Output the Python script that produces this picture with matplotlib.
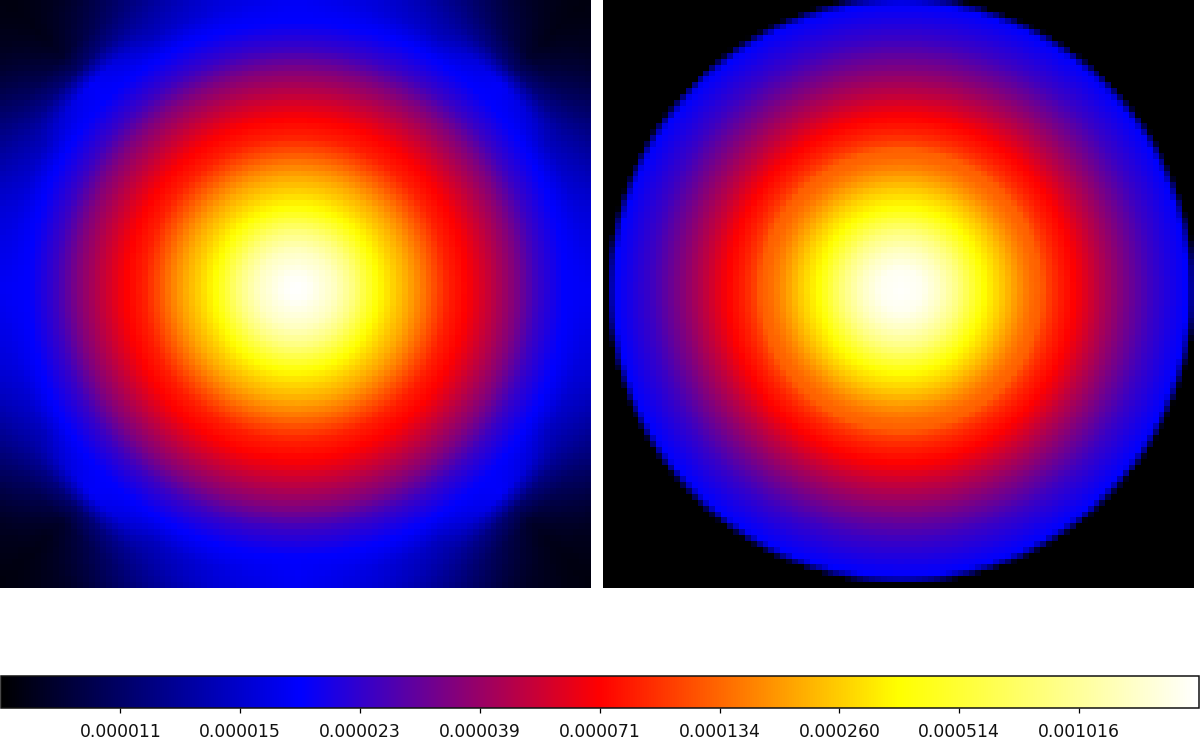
import numpy as np
import matplotlib
matplotlib.use("Agg")
import matplotlib.pyplot as plt
from matplotlib.colors import LinearSegmentedColormap, FuncNorm
from matplotlib.cm import ScalarMappable

# Colour scale: values (in 1e-6) at each tenth of the bar
SCALE_VALUES = [9, 11, 15, 23, 39, 71, 134, 260, 514, 1016, 2000]
SCALE_POS = [0.0, 0.1, 0.2, 0.3, 0.4, 0.5, 0.6, 0.7, 0.8, 0.9, 1.0]
TICK_VALUES = [11, 15, 23, 39, 71, 134, 260, 514, 1016]
TICK_LABELS = ["0.000011", "0.000015", "0.000023", "0.000039", "0.000071",
               "0.000134", "0.000260", "0.000514", "0.001016"]
CMAP_COLORS = ["#000000", "#0000ff", "#ff0000", "#ffff00", "#ffffff"]

# Left map: radial profile (image px, value in 1e-6)
LEFT_R = [0, 13, 38, 56, 82, 99, 111, 124, 136, 152, 170, 194, 219, 240, 268]
LEFT_V = [2000, 1866, 1331, 860, 365, 260, 209, 158, 120, 86, 71, 49, 34, 24, 18.3]
# Left map: outskirts, by radius and by angle away from the axes
OUTER_R = [268, 290, 310, 330, 350, 375, 420]
OUTER_ANGLE = [0, 15, 30, 45]
OUTER_V = [[18.3, 17.8, 17.5, 17.5, 17.5, 17.5, 17.5],
           [18.3, 16.2, 15.5, 14.5, 13.7, 12.8, 11.8],
           [18.3, 14.2, 12.9, 11.8, 11.0, 10.0, 9.4],
           [18.3, 18.0, 11.0, 9.7, 9.4, 9.3, 9.2]]

# Right map: radial profile (image px, value in 1e-6)
RIGHT_R = [0, 21, 39, 57, 83, 100, 110, 123, 133, 140, 147, 158, 173, 195, 221, 250, 286, 291, 295]
RIGHT_V = [1950, 1800, 1331, 860, 365, 260, 209, 158, 134, 130, 105, 86, 71, 49, 34, 24, 18.3, 12, 9]

N_CELLS = 100
W, H = 1200, 742
LEFT_BOX = (0, 590.5, 0, 588)
RIGHT_BOX = (603, 1194, 0, 588)
LEFT_CENTRE = (296, 289)
RIGHT_CENTRE = (901, 290)

OFFSET = 7.0
_logs = np.log2(np.array(SCALE_VALUES, float) - OFFSET)
_pos = np.array(SCALE_POS)


def forward(v):
    return np.interp(np.log2(np.maximum(np.asarray(v, float) - OFFSET, 1e-3)), _logs, _pos)


def inverse(t):
    return 2.0 ** np.interp(np.asarray(t, float), _pos, _logs) + OFFSET


norm = FuncNorm((forward, inverse), vmin=SCALE_VALUES[0], vmax=SCALE_VALUES[-1])
cmap = LinearSegmentedColormap.from_list("bbyw", CMAP_COLORS, N=512)


def radii(box, centre):
    xs = box[0] + (np.arange(N_CELLS) + 0.5) * (box[1] - box[0]) / N_CELLS
    ys = box[2] + (np.arange(N_CELLS) + 0.5) * (box[3] - box[2]) / N_CELLS
    dx, dy = np.meshgrid(xs - centre[0], ys - centre[1])
    return dx, dy, np.hypot(dx, dy)


def along(r, knots, values):
    # read between profile knots along the colour scale, not in raw value
    return inverse(np.interp(r, knots, forward(values)))


def left_map():
    dx, dy, r = radii(LEFT_BOX, LEFT_CENTRE)
    z = along(r, LEFT_R, LEFT_V)
    a = np.degrees(np.arctan2(np.minimum(abs(dx), abs(dy)), np.maximum(abs(dx), abs(dy))))
    rows = np.array([np.interp(r, OUTER_R, forward(row)) for row in OUTER_V])
    k = np.clip(np.searchsorted(OUTER_ANGLE, a, side="right") - 1, 0, len(OUTER_ANGLE) - 2)
    angles = np.array(OUTER_ANGLE, float)
    f = (a - angles[k]) / (angles[k + 1] - angles[k])
    i, j = np.indices(r.shape)
    outer = inverse(rows[k, i, j] * (1 - f) + rows[k + 1, i, j] * f)
    return np.where(r >= OUTER_R[0], outer, z)


def right_map():
    _, _, r = radii(RIGHT_BOX, RIGHT_CENTRE)
    return along(r, RIGHT_R, RIGHT_V)


fig = plt.figure(figsize=(W / 100, H / 100), dpi=100, facecolor="white")


def panel(box, z):
    ax = fig.add_axes([box[0] / W, 1 - box[3] / H, (box[1] - box[0]) / W, (box[3] - box[2]) / H])
    ax.imshow(z, cmap=cmap, norm=norm, interpolation="nearest", aspect="auto")
    ax.set_axis_off()


panel(LEFT_BOX, left_map())
panel(RIGHT_BOX, right_map())

cax = fig.add_axes([0.5 / W, 1 - 708 / H, 1198.5 / W, 32 / H])
cb = fig.colorbar(ScalarMappable(norm=norm, cmap=cmap), cax=cax, orientation="horizontal",
                  ticks=TICK_VALUES)
cb.ax.minorticks_off()
cb.ax.set_xticks(TICK_VALUES)
cb.ax.set_xticklabels(TICK_LABELS, fontsize=12.4, family="DejaVu Sans", color="#111111")
cb.ax.tick_params(axis="x", length=3.6, width=0.9, pad=7.5)
cb.outline.set_linewidth(1.1)
cb.outline.set_edgecolor("#111111")

fig.savefig("out.png", dpi=100)
